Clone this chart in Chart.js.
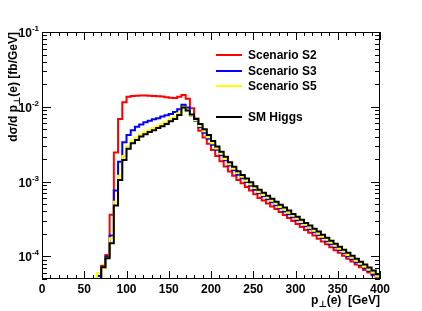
<!DOCTYPE html>
<html>
<head>
<meta charset="utf-8">
<script src="https://cdn.jsdelivr.net/npm/chart.js@4/dist/chart.umd.min.js"></script>
<style>
  html, body { margin: 0; padding: 0; background: #fff; }
  #wrap { width: 422px; height: 311px; }
</style>
</head>
<body>
<div id="wrap"><canvas id="ptChart" width="422" height="311"></canvas></div>
<script>
// lower edges of the 5 GeV bins
const binLow = [60, 65, 70, 75, 80, 85, 90, 95, 100, 105, 110, 115, 120, 125, 130, 135,
  140, 145, 150, 155, 160, 165, 170, 175, 180, 185, 190, 195, 200, 205, 210, 215,
  220, 225, 230, 235, 240, 245, 250, 255, 260, 265, 270, 275, 280, 285, 290, 295,
  300, 305, 310, 315, 320, 325, 330, 335, 340, 345, 350, 355, 360, 365, 370, 375,
  380, 385, 390, 395];
const binHigh = 400;

const scenarioS2 = [3.0e-5, 5.0e-5, 7.5e-5, 1.05e-4, 3.6e-4, 2.45e-3, 6.9e-3, 1.15e-2,
  1.36e-2, 1.39e-2, 1.41e-2, 1.42e-2, 1.42e-2, 1.41e-2, 1.40e-2, 1.38e-2,
  1.37e-2, 1.34e-2, 1.32e-2, 1.31e-2, 1.36e-2, 1.44e-2, 1.28e-2, 9.6e-3,
  7.0e-3, 4.8e-3, 3.9e-3, 3.2e-3, 2.65e-3, 2.2e-3, 1.88e-3, 1.6e-3,
  1.37e-3, 1.2e-3, 1.05e-3, 9.5e-4, 8.5e-4, 7.6e-4, 6.8e-4, 6.05e-4,
  5.6e-4, 5.1e-4, 4.65e-4, 4.3e-4, 3.92e-4, 3.58e-4, 3.26e-4, 2.98e-4,
  2.71e-4, 2.47e-4, 2.26e-4, 2.08e-4, 1.9e-4, 1.73e-4, 1.58e-4, 1.46e-4,
  1.33e-4, 1.21e-4, 1.12e-4, 1.02e-4, 9.3e-5, 8.6e-5, 7.8e-5, 7.2e-5,
  6.6e-5, 6.1e-5, 5.6e-5, 5.1e-5];

const scenarioS3 = [3.0e-5, 5.5e-5, 7.0e-5, 1.0e-4, 1.9e-4, 7.6e-4, 1.85e-3, 3.35e-3,
  4.2e-3, 4.85e-3, 5.4e-3, 5.8e-3, 6.2e-3, 6.5e-3, 6.8e-3, 7.05e-3,
  7.4e-3, 7.7e-3, 8.0e-3, 8.5e-3, 9.3e-3, 1.07e-2, 9.8e-3, 7.6e-3,
  6.5e-3, 5.35e-3, 4.5e-3, 3.75e-3, 3.12e-3, 2.66e-3, 2.26e-3, 1.93e-3,
  1.64e-3, 1.42e-3, 1.24e-3, 1.11e-3, 9.9e-4, 8.8e-4, 7.8e-4, 7.0e-4,
  6.4e-4, 5.8e-4, 5.3e-4, 4.85e-4, 4.4e-4, 4.0e-4, 3.66e-4, 3.35e-4,
  3.05e-4, 2.78e-4, 2.54e-4, 2.32e-4, 2.11e-4, 1.93e-4, 1.76e-4, 1.6e-4,
  1.46e-4, 1.33e-4, 1.22e-4, 1.11e-4, 1.01e-4, 9.2e-5, 8.4e-5, 7.7e-5,
  7.0e-5, 6.4e-5, 5.85e-5, 5.2e-5];

const scenarioS5 = [3.0e-5, 6.0e-5, 7.0e-5, 9.5e-5, 1.75e-4, 5.4e-4, 1.2e-3, 2.2e-3,
  3.0e-3, 3.5e-3, 3.9e-3, 4.3e-3, 4.6e-3, 4.95e-3, 5.2e-3, 5.55e-3,
  5.9e-3, 6.3e-3, 6.8e-3, 7.3e-3, 8.2e-3, 9.9e-3, 8.9e-3, 7.6e-3,
  6.6e-3, 5.55e-3, 4.7e-3, 3.92e-3, 3.26e-3, 2.77e-3, 2.36e-3, 2.01e-3,
  1.71e-3, 1.49e-3, 1.3e-3, 1.16e-3, 1.03e-3, 9.2e-4, 8.2e-4, 7.3e-4,
  6.65e-4, 6.07e-4, 5.54e-4, 5.05e-4, 4.6e-4, 4.2e-4, 3.83e-4, 3.5e-4,
  3.19e-4, 2.9e-4, 2.65e-4, 2.42e-4, 2.2e-4, 2.01e-4, 1.83e-4, 1.67e-4,
  1.52e-4, 1.39e-4, 1.27e-4, 1.16e-4, 1.05e-4, 9.6e-5, 8.8e-5, 8.0e-5,
  7.3e-5, 6.65e-5, 6.07e-5, 5.4e-5];

const smHiggs = [3.0e-5, 4.5e-5, 7.2e-5, 9.5e-5, 1.5e-4, 4.8e-4, 1.05e-3, 1.95e-3,
  2.75e-3, 3.25e-3, 3.6e-3, 4.0e-3, 4.3e-3, 4.6e-3, 4.85e-3, 5.2e-3,
  5.5e-3, 5.9e-3, 6.4e-3, 6.9e-3, 7.8e-3, 9.8e-3, 8.9e-3, 7.9e-3,
  6.9e-3, 5.9e-3, 5.0e-3, 4.2e-3, 3.5e-3, 2.95e-3, 2.5e-3, 2.15e-3,
  1.82e-3, 1.58e-3, 1.38e-3, 1.23e-3, 1.1e-3, 9.8e-4, 8.7e-4, 7.8e-4,
  7.1e-4, 6.5e-4, 5.9e-4, 5.4e-4, 4.9e-4, 4.5e-4, 4.1e-4, 3.7e-4,
  3.4e-4, 3.1e-4, 2.8e-4, 2.6e-4, 2.35e-4, 2.15e-4, 1.95e-4, 1.78e-4,
  1.62e-4, 1.48e-4, 1.35e-4, 1.23e-4, 1.12e-4, 1.02e-4, 9.3e-5, 8.5e-5,
  7.8e-5, 7.1e-5, 6.5e-5, 5.8e-5];

const seriesNames = ['Scenario S2', 'Scenario S3', 'Scenario S5', 'SM Higgs'];
const seriesColors = ['#ff0000', '#0000ff', '#ffff00', '#000000'];
const xTickValues = [0, 50, 100, 150, 200, 250, 300, 350, 400];
const yDecades = [1e-4, 1e-3, 1e-2, 1e-1];
const yExponents = ['-4', '-3', '-2', '-1'];

const FONT = "'Liberation Sans', Arial, Helvetica, 'DejaVu Sans', sans-serif";

// turn bin contents into points for a stepped line
function toSteps(values) {
  const pts = binLow.map((lo, i) => ({ x: lo, y: values[i] }));
  pts.push({ x: binHigh, y: values[values.length - 1] });
  return pts;
}

const allSeries = [scenarioS2, scenarioS3, scenarioS5, smHiggs];
const datasets = allSeries.map((vals, i) => ({
  label: seriesNames[i],
  data: toSteps(vals),
  borderColor: seriesColors[i],
  borderWidth: 2,
  stepped: 'before',
  pointRadius: 0,
  fill: false,
  order: allSeries.length - i
}));

// ROOT-like frame, ticks, labels, titles and legend
const rootStyle = {
  id: 'rootStyle',
  afterDatasetsDraw(chart) {
    const { ctx, chartArea: a, scales: { x, y } } = chart;
    ctx.save();
    ctx.strokeStyle = '#000';
    ctx.lineWidth = 1;
    ctx.strokeRect(a.left + 0.5, a.top + 0.5, a.right - a.left - 1, a.bottom - a.top - 1);

    ctx.beginPath();
    for (let v = 0; v <= 400; v += 10) {
      const px = Math.round(x.getPixelForValue(v)) + 0.5;
      const len = v % 50 === 0 ? 8 : 4;
      ctx.moveTo(px, a.bottom); ctx.lineTo(px, a.bottom - len);
      ctx.moveTo(px, a.top); ctx.lineTo(px, a.top + len);
    }
    for (let e = -5; e <= -1; e++) {
      for (let m = 1; m <= 9; m++) {
        const v = m * Math.pow(10, e);
        if (v < y.min * 0.999 || v > y.max * 1.001) continue;
        const py = Math.round(y.getPixelForValue(v)) + 0.5;
        const len = m === 1 ? 9 : 5;
        ctx.moveTo(a.left, py); ctx.lineTo(a.left + len, py);
        ctx.moveTo(a.right, py); ctx.lineTo(a.right - len, py);
      }
    }
    ctx.stroke();

    // y tick labels 10^n
    ctx.fillStyle = '#000';
    ctx.textBaseline = 'alphabetic';
    yDecades.forEach((v, i) => {
      const py = y.getPixelForValue(v);
      ctx.font = 'bold 8px ' + FONT;
      ctx.textAlign = 'right';
      ctx.fillText(yExponents[i], 39, py - 1);
      const ew = ctx.measureText(yExponents[i]).width;
      ctx.font = 'bold 12px ' + FONT;
      ctx.fillText('10', 39 - ew, py + 5);
    });

    // x title: p_perp(e)  [GeV], right aligned at frame edge
    ctx.textAlign = 'left';
    const big = 'bold 12px ' + FONT, small = 'bold 9px ' + FONT;
    ctx.font = big; const w1 = ctx.measureText('p').width;
    const w3 = ctx.measureText('(e)  [GeV]').width;
    ctx.font = small; const w2 = ctx.measureText('\u22A5').width;
    let tx = a.right - (w1 + w2 + w3);
    const ty = 304;
    ctx.font = big; ctx.fillText('p', tx, ty); tx += w1;
    ctx.font = small; ctx.fillText('\u22A5', tx, ty + 3); tx += w2;
    ctx.font = big; ctx.fillText('(e)  [GeV]', tx, ty);

    // y title, rotated, ending at the top of the frame
    ctx.save();
    ctx.translate(17, a.top);
    ctx.rotate(-Math.PI / 2);
    ctx.font = big; const a1 = ctx.measureText('d\u03C3/d p').width;
    const a3 = ctx.measureText('(e) [fb/GeV]').width;
    ctx.font = small; const a2 = ctx.measureText('\u22A5').width;
    let ry = -(a1 + a2 + a3);
    ctx.font = big; ctx.fillText('d\u03C3/d p', ry, 0); ry += a1;
    ctx.font = small; ctx.fillText('\u22A5', ry, 3); ry += a2;
    ctx.font = big; ctx.fillText('(e) [fb/GeV]', ry, 0);
    ctx.restore();

    // legend
    const rows = [55, 71, 86, 117];
    ctx.font = 'bold 12px ' + FONT;
    ctx.textBaseline = 'middle';
    seriesNames.forEach((name, i) => {
      ctx.strokeStyle = seriesColors[i];
      ctx.lineWidth = 2;
      ctx.beginPath();
      ctx.moveTo(216, rows[i]); ctx.lineTo(242, rows[i]);
      ctx.stroke();
      ctx.fillStyle = '#000';
      ctx.fillText(name, 248, rows[i] + 1);
    });
    ctx.restore();
  }
};

new Chart(document.getElementById('ptChart'), {
  type: 'line',
  data: { datasets },
  options: {
    responsive: false,
    animation: false,
    devicePixelRatio: 1,
    layout: { padding: { left: 0, right: 42, top: 32, bottom: 0 } },
    plugins: { legend: { display: false }, tooltip: { enabled: false } },
    scales: {
      x: {
        type: 'linear', min: 0, max: 400,
        afterBuildTicks: (scale) => { scale.ticks = xTickValues.map(v => ({ value: v })); },
        afterFit: (scale) => { scale.height = 32; },
        grid: { display: false, drawTicks: false },
        border: { display: false },
        ticks: { color: '#000', padding: 3, maxRotation: 0, autoSkip: false,
          font: { family: FONT, size: 12, weight: 'bold' } }
      },
      y: {
        type: 'logarithmic', min: 5e-5, max: 0.1,
        afterBuildTicks: (scale) => { scale.ticks = yDecades.map(v => ({ value: v })); },
        afterFit: (scale) => { scale.width = 42; },
        grid: { display: false, drawTicks: false },
        border: { display: false },
        ticks: { display: false }
      }
    }
  },
  plugins: [rootStyle]
});
</script>
</body>
</html>
